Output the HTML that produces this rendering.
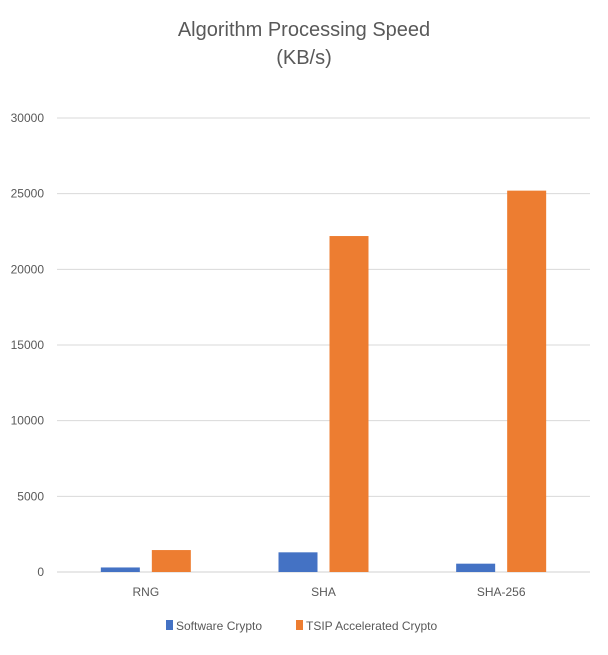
<!DOCTYPE html>
<html><head><meta charset="utf-8"><style>
body{margin:0;background:#fff;}
svg text{font-family:"Liberation Sans",sans-serif;fill:#595959;}
</style></head><body>
<svg id="chart" width="608" height="650" xmlns="http://www.w3.org/2000/svg">
<rect width="608" height="650" fill="#fff"/>
<text x="304" y="36" text-anchor="middle" font-size="20">Algorithm Processing Speed</text>
<text x="304" y="64" text-anchor="middle" font-size="20">(KB/s)</text>
<g id="grid"></g><g id="bars"></g><g id="labels"></g>
<g>
<rect x="166" y="620" width="7" height="10" fill="#4472C4"/>
<text x="176" y="630" font-size="12">Software Crypto</text>
<rect x="296" y="620" width="7" height="10" fill="#ED7D31"/>
<text x="306" y="630" font-size="12">TSIP Accelerated Crypto</text>
</g>
</svg>
<script>
const categories=["RNG","SHA","SHA-256"];
const software=[300,1300,550];
const tsip=[1450,22200,25200];
const ticks=[0,5000,10000,15000,20000,25000,30000];
const NS="http://www.w3.org/2000/svg";
const x0=57,x1=590,y0=572,y1=118,ymax=30000;
const y=v=>y0-(v/ymax)*(y0-y1);
const bw=(x1-x0)/categories.length;
const cx=i=>x0+bw*(i+0.5);
function mk(tag,attrs,parent){const e=document.createElementNS(NS,tag);for(const k in attrs)e.setAttribute(k,attrs[k]);document.getElementById(parent).appendChild(e);return e;}
ticks.forEach(t=>{
 const l=mk('line',{x1:x0,x2:x1,y1:y(t),y2:y(t),stroke:t===0?'#d0d0d0':'#d9d9d9','stroke-width':1},'grid');
 
 
 const tx=mk('text',{x:44,y:y(t)+4,'text-anchor':'end','font-size':12},'labels');
 tx.textContent=t;
 
 
});
const W=39,G=12;
categories.forEach((c,i)=>{
 const b1=mk('rect',{x:cx(i)-G/2-W,y:y(software[i]),width:W,height:y0-y(software[i]),fill:'#4472C4'},'bars');
 
 
 const b2=mk('rect',{x:cx(i)+G/2,y:y(tsip[i]),width:W,height:y0-y(tsip[i]),fill:'#ED7D31'},'bars');
 
 
 const tx=mk('text',{x:cx(i),y:596,'text-anchor':'middle','font-size':12},'labels');
 tx.textContent=c;
 
 
});
</script>
</body></html>
